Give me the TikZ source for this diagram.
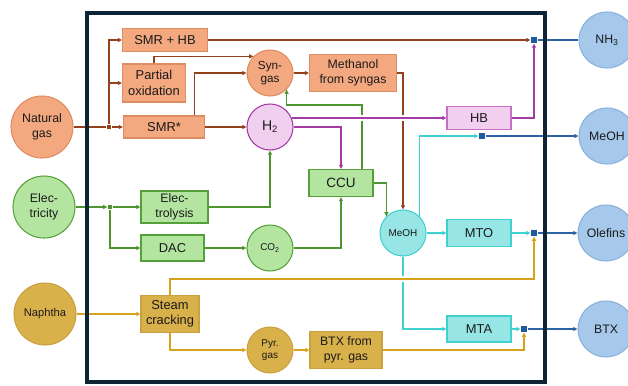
\documentclass[tikz,border=0pt]{standalone}
\usepackage{fontspec}
\setmainfont{Liberation Sans}
\usetikzlibrary{arrows.meta,calc}

\definecolor{orfill}{HTML}{F3A880}
\definecolor{ordraw}{HTML}{DE8C62}
\definecolor{brline}{HTML}{93401C}
\definecolor{mgdraw}{HTML}{A43AA4}
\definecolor{mgfill}{HTML}{F1CFEF}
\definecolor{pkdraw}{HTML}{C56FC5}
\definecolor{grfill}{HTML}{B3E5A1}
\definecolor{grdraw}{HTML}{55A03A}
\definecolor{grline}{HTML}{4E9530}
\definecolor{cyfill}{HTML}{97E5E5}
\definecolor{cydraw}{HTML}{3FD0D0}
\definecolor{ylfill}{HTML}{D9B14B}
\definecolor{yldraw}{HTML}{C9A042}
\definecolor{ylline}{HTML}{D9A21C}
\definecolor{blfill}{HTML}{A5C8EB}
\definecolor{bldraw}{HTML}{8AB2DC}
\definecolor{blline}{HTML}{2E62A6}
\definecolor{bljunc}{HTML}{1F5A9C}
\definecolor{framecol}{HTML}{0D2436}
\definecolor{ink}{HTML}{1A1A1A}

\begin{document}
\begin{tikzpicture}[x=0.3mm, y=-0.3mm, line width=0.9pt, text=ink,
	proc/.style={draw, rectangle, align=center, inner sep=1pt, font=\fontsize{11}{13}\selectfont},
	flow/.style={draw, circle, align=center, inner sep=0pt, minimum size=13.8mm, font=\fontsize{10}{11.5}\selectfont},
	feed/.style={draw, circle, align=center, inner sep=0pt, minimum size=18.6mm, font=\fontsize{10.5}{13}\selectfont},
	prod/.style={draw=bldraw, fill=blfill, circle, align=center, inner sep=0pt, minimum size=16.8mm, font=\fontsize{10.5}{13}\selectfont},
	junc/.style={rectangle, fill=bljunc, inner sep=0pt, minimum size=1.8mm},
	arr/.style={-{Triangle[length=3.6pt,width=3.4pt]}},
	hop/.style={draw=white, line width=5pt}]

\useasboundingbox (0,0) rectangle (628,385);

% Feedstocks
\node[feed, draw=ordraw, fill=orfill] (ng) at (42,127) {Natural\\gas};
\node[feed, draw=grdraw, fill=grfill] (el) at (44,207) {Elec-\\tricity};
\node[feed, draw=yldraw, fill=ylfill, font=\fontsize{9.5}{11}\selectfont] (na) at (45,314) {Naphtha};

% Natural gas routes
\node[proc, draw=ordraw, fill=orfill, minimum width=25.5mm, minimum height=6.9mm] (smrhb) at (165,40) {SMR + HB};
\node[proc, draw=ordraw, fill=orfill, minimum width=18.9mm, minimum height=11.4mm] (pox) at (154,83) {Partial\\oxidation};
\node[proc, draw=ordraw, fill=orfill, minimum width=24.3mm, minimum height=6.6mm] (smr) at (164,127) {SMR*};
\node[flow, draw=ordraw, fill=orfill] (sg) at (270,73) {Syn-\\gas};
\node[flow, draw=mgdraw, fill=mgfill, font=\fontsize{12}{14}\selectfont] (h2) at (270,127) {H\textsubscript{2}};
\node[proc, draw=ordraw, fill=orfill, minimum width=26.1mm, minimum height=11.1mm, font=\fontsize{10.5}{13}\selectfont] (mfs) at (353,73) {Methanol\\from syngas};
\node[proc, draw=pkdraw, fill=mgfill, minimum width=19.2mm, minimum height=6.9mm] (hb) at (479,118) {HB};

% Electricity routes
\node[proc, draw=grdraw, fill=grfill, minimum width=20.1mm, minimum height=9.6mm, font=\fontsize{10.5}{13}\selectfont] (ely) at (174.5,207) {Elec-\\trolysis};
\node[proc, draw=grdraw, fill=grfill, minimum width=18.9mm, minimum height=7.8mm] (dac) at (172.5,248) {DAC};
\node[flow, draw=grdraw, fill=grfill, font=\fontsize{8.5}{10}\selectfont] (co2) at (270,248) {CO\textsubscript{2}};
\node[proc, draw=grdraw, fill=grfill, minimum width=19.2mm, minimum height=8.1mm, font=\fontsize{11.5}{13}\selectfont] (ccu) at (341,183) {CCU};

% Methanol routes
\node[flow, draw=cydraw, fill=cyfill, font=\fontsize{8.5}{10}\selectfont] (meoh) at (403,233) {MeOH};
\node[proc, draw=cydraw, fill=cyfill, minimum width=19.2mm, minimum height=8.1mm] (mto) at (479,233) {MTO};
\node[proc, draw=cydraw, fill=cyfill, minimum width=19.2mm, minimum height=7.8mm] (mta) at (479,329) {MTA};

% Naphtha routes
\node[proc, draw=yldraw, fill=ylfill, minimum width=17.4mm, minimum height=11.1mm] (sc) at (170,314) {Steam\\cracking};
\node[flow, draw=yldraw, fill=ylfill, font=\fontsize{8.5}{10.5}\selectfont] (pyr) at (270,350) {Pyr.\\gas};
\node[proc, draw=yldraw, fill=ylfill, minimum width=21.6mm, minimum height=11.1mm, font=\fontsize{10.5}{13}\selectfont] (btxp) at (346,350) {BTX from\\pyr. gas};

% Products
\node[prod] (nh3) at (607,40) {NH\textsubscript{3}};
\node[prod] (meo) at (607,136) {MeOH};
\node[prod] (ole) at (606,233) {Olefins};
\node[prod] (btx) at (606,329) {BTX};

% Junctions
\node[junc, fill=brline, minimum size=1.3mm] (jng) at (109,127) {};
\node[junc, fill=grline, minimum size=1.3mm] (jel) at (110,207) {};
\node[junc] (jnh) at (534,40) {};
\node[junc] (jme) at (482,136) {};
\node[junc] (jol) at (534,233) {};
\node[junc] (jbt) at (524,329) {};

\coordinate (smrup) at ($(smr.north east)+(-11,0)$);
\coordinate (ccuup) at ($(ccu.north)+(21,0)$);
\coordinate (scup) at ($(sc.north)+(0,-16)$);

% Natural gas lines
\draw[brline] (ng.east |- jng) -- (jng);
\draw[brline, arr] (jng) -- (smr.west);
\draw[brline, arr] (jng) |- (smrhb.west);
\draw[brline, arr] (jng |- pox.west) -- (pox.west);
\draw[brline, arr] (smrhb.east) -- (jnh.west);
\draw[brline, arr] (pox.north) |- (sg.north west);
\draw[brline, arr] (smrup) |- (sg.west);
\draw[brline, arr] (smr.east) -- (h2.west);
\draw[brline, arr] (sg.east) -- (mfs.west);
\draw[brline, arr] (mfs.east) -| (meoh.north);

% Electricity lines
\draw[grline, arr] (el.east |- jel) -- (jel.west);
\draw[grline, arr] (jel) -- (ely.west);
\draw[grline, arr] (jel) |- (dac.west);
\draw[grline, arr] (ely.east) -| (h2.south);
\draw[grline, arr] (dac.east) -- (co2.west);
\draw[grline, arr] (co2.east) -| (ccu.south);
\draw[grline, arr] (ccuup) -- ++(0,-64) -| (sg.south east);
\draw[grline, arr] (ccu.east) -| (meoh.north west);

% Methanol lines
\draw[cydraw, arr] (meoh.north east) |- (jme.west);
\draw[cydraw, arr] (meoh.east) -- (mto.west);
\draw[cydraw, arr] (mto.east) -- (jol.west);
\draw[cydraw, arr] (meoh.south) |- (mta.west);
\draw[cydraw, arr] (mta.east) -- (jbt.west);

% Hydrogen lines
\draw[hop] (ccuup |- hb.west) ++(-3,0) -- ++(6,0);
\draw[hop] (meoh.north |- hb.west) ++(-3,0) -- ++(6,0);
\draw[mgdraw, arr] (h2.23 |- hb.west) -- (hb.west);
\draw[mgdraw, arr] (h2.east) -| (ccu.north);
\draw[mgdraw, arr] (hb.east) -| (jnh.south);

% Naphtha lines
\draw[ylline, arr] (na.east) -- (sc.west);
\draw[hop] (meoh.south |- scup) ++(-3,0) -- ++(6,0);
\draw[ylline, arr] (sc.north) -- (scup) -| (jol.south);
\draw[ylline, arr] (sc.south) |- (pyr.west);
\draw[ylline, arr] (pyr.east) -- (btxp.west);
\draw[ylline, arr] (btxp.east) -| (jbt.south);

% Product lines
\draw[blline] (jnh.east) -- (nh3.west);
\draw[blline, arr] (jme.east) -- (meo.west);
\draw[blline, arr] (jol.east) -- (ole.west);
\draw[blline, arr] (jbt.east) -- (btx.west);

% Plant boundary
\draw[framecol, line width=3.4pt] (87,13) rectangle (545,382);

\end{tikzpicture}
\end{document}
